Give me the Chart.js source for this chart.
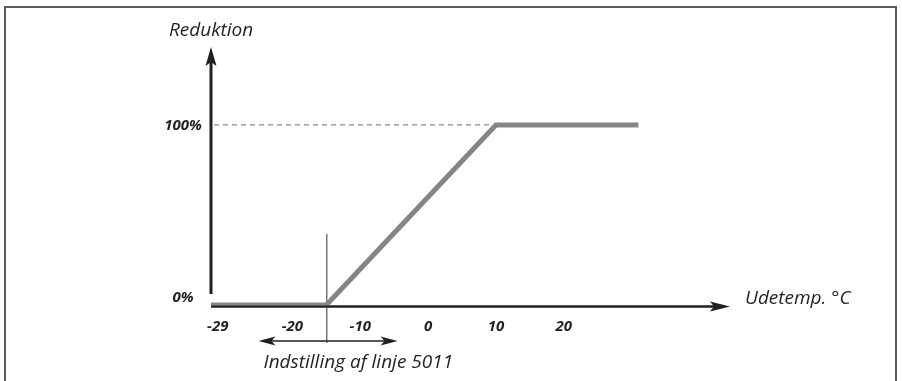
<!DOCTYPE html>
<html>
<head>
<meta charset="utf-8">
<script src="https://cdn.jsdelivr.net/npm/chart.js@4"></script>
<style>
html,body{margin:0;padding:0;background:#fff;}
#wrap{width:902px;height:381px;}
</style>
</head>
<body>
<div id="wrap"><canvas id="c" width="902" height="381"></canvas></div>
<script>
// ---- data ----
const curveTemps = [-32, -15, 10, 31];      // Udetemp. °C
const curveReduction = [0, 0, 100, 100];    // Reduktion %
const xTickValues = [-31, -20, -10, 0, 10, 20];
const xTickLabels = ['-29', '-20', '-10', '0', '10', '20'];
const yTickValues = [0, 100];
const yTickLabels = ['0%', '100%'];
const settingTemp = -15;                    // Indstilling af linje 5011
const settingRange = [-25, -4.5];
const xRange = [-32, 44.5];
const yRange = [0, 143.3];

const FONT = '"Open Sans", "DejaVu Sans", sans-serif';
const TXT = '#231f20';

function arrowHead(ctx, tx, ty, dir, len, half, notch) {
  ctx.beginPath();
  if (dir === 'up') {
    ctx.moveTo(tx, ty);
    ctx.lineTo(tx - half, ty + len);
    ctx.lineTo(tx, ty + len - notch);
    ctx.lineTo(tx + half, ty + len);
  } else if (dir === 'right') {
    ctx.moveTo(tx, ty);
    ctx.lineTo(tx - len, ty - half);
    ctx.lineTo(tx - len + notch, ty);
    ctx.lineTo(tx - len, ty + half);
  } else {
    ctx.moveTo(tx, ty);
    ctx.lineTo(tx + len, ty - half);
    ctx.lineTo(tx + len - notch, ty);
    ctx.lineTo(tx + len, ty + half);
  }
  ctx.closePath();
  ctx.fill();
}

const schematic = {
  id: 'schematic',
  beforeDatasetsDraw(chart) {
    const ctx = chart.ctx, xs = chart.scales.x, ys = chart.scales.y;
    const ca = chart.chartArea;
    ctx.save();
    // frame
    ctx.strokeStyle = '#5a5a5a';
    ctx.lineWidth = 2;
    ctx.beginPath();
    ctx.moveTo(5, 381); ctx.lineTo(5, 7); ctx.lineTo(896, 7); ctx.lineTo(896, 381);
    ctx.stroke();

    const y0 = ys.getPixelForValue(0);
    const x0 = xs.getPixelForValue(xRange[0]);
    // x axis
    ctx.strokeStyle = TXT; ctx.fillStyle = TXT;
    ctx.lineWidth = 2.5;
    ctx.beginPath();
    ctx.moveTo(x0, y0 + 1.5); ctx.lineTo(ca.right - 12, y0 + 1.5);
    ctx.stroke();
    arrowHead(ctx, ca.right, y0 + 1.5, 'right', 20, 5, 4);
    // y axis
    ctx.lineWidth = 3;
    ctx.beginPath();
    ctx.moveTo(x0, y0 - 11); ctx.lineTo(x0, ca.top + 12);
    ctx.stroke();
    arrowHead(ctx, x0, ca.top, 'up', 19, 5.5, 4);

    // dashed 100% guide
    const y100 = ys.getPixelForValue(100);
    ctx.strokeStyle = '#8c8c8c';
    ctx.lineWidth = 1.3;
    ctx.setLineDash([5, 4]);
    ctx.beginPath();
    ctx.moveTo(x0 + 3, y100); ctx.lineTo(xs.getPixelForValue(10), y100);
    ctx.stroke();
    ctx.setLineDash([]);

    // setting marker
    const xm = xs.getPixelForValue(settingTemp);
    ctx.strokeStyle = '#333';
    ctx.lineWidth = 1;
    ctx.beginPath();
    ctx.moveTo(xm + 0.5, ys.getPixelForValue(39.5)); ctx.lineTo(xm + 0.5, y0 + 38);
    ctx.stroke();
    // double arrow
    const ya = y0 + 36;
    const xl = xs.getPixelForValue(settingRange[0]);
    const xr = xs.getPixelForValue(settingRange[1]);
    ctx.strokeStyle = TXT; ctx.fillStyle = TXT;
    ctx.lineWidth = 1.5;
    ctx.beginPath();
    ctx.moveTo(xl + 10, ya); ctx.lineTo(xr - 10, ya);
    ctx.stroke();
    arrowHead(ctx, xl, ya, 'left', 17, 4.5, 4);
    arrowHead(ctx, xr, ya, 'right', 17, 4.5, 4);
    ctx.restore();
  },
  afterDraw(chart) {
    const ctx = chart.ctx, xs = chart.scales.x, ys = chart.scales.y;
    const ca = chart.chartArea;
    ctx.save();
    ctx.fillStyle = TXT;
    ctx.textBaseline = 'middle';
    // x tick labels
    ctx.font = 'italic bold 15px ' + FONT;
    ctx.textAlign = 'center';
    xTickValues.forEach((v, i) => {
      ctx.fillText(xTickLabels[i], xs.getPixelForValue(v), ys.getPixelForValue(0) + 22);
    });
    // y tick labels
    yTickValues.forEach((v, i) => {
      const off = v === 0 ? -7 : 1;
      ctx.fillText(yTickLabels[i], 183, ys.getPixelForValue(v) + off);
    });
    // titles
    ctx.font = 'italic 19px ' + FONT;
    ctx.textAlign = 'center';
    ctx.fillText('Reduktion', xs.getPixelForValue(xRange[0]), 31);
    ctx.textAlign = 'left';
    ctx.fillText('Udetemp. °C', ca.right + 15, ys.getPixelForValue(0) - 6);
    ctx.fillText('Indstilling af linje 5011', xs.getPixelForValue(settingRange[0]) + 5, ys.getPixelForValue(0) + 58);
    ctx.restore();
  }
};

new Chart(document.getElementById('c'), {
  type: 'line',
  data: {
    datasets: [{
      data: curveTemps.map((t, i) => ({ x: t, y: curveReduction[i] })),
      borderColor: '#858585',
      borderWidth: 5,
      pointRadius: 0,
      tension: 0,
      borderCapStyle: 'butt',
      borderJoinStyle: 'miter',
      fill: false
    }]
  },
  options: {
    responsive: false,
    devicePixelRatio: 1,
    animation: false,
    layout: { padding: { left: 211, right: 172, top: 47, bottom: 76 } },
    plugins: { legend: { display: false }, tooltip: { enabled: false } },
    scales: {
      x: { type: 'linear', min: xRange[0], max: xRange[1], display: false },
      y: { type: 'linear', min: yRange[0], max: yRange[1], display: false }
    }
  },
  plugins: [schematic]
});
</script>
</body>
</html>
